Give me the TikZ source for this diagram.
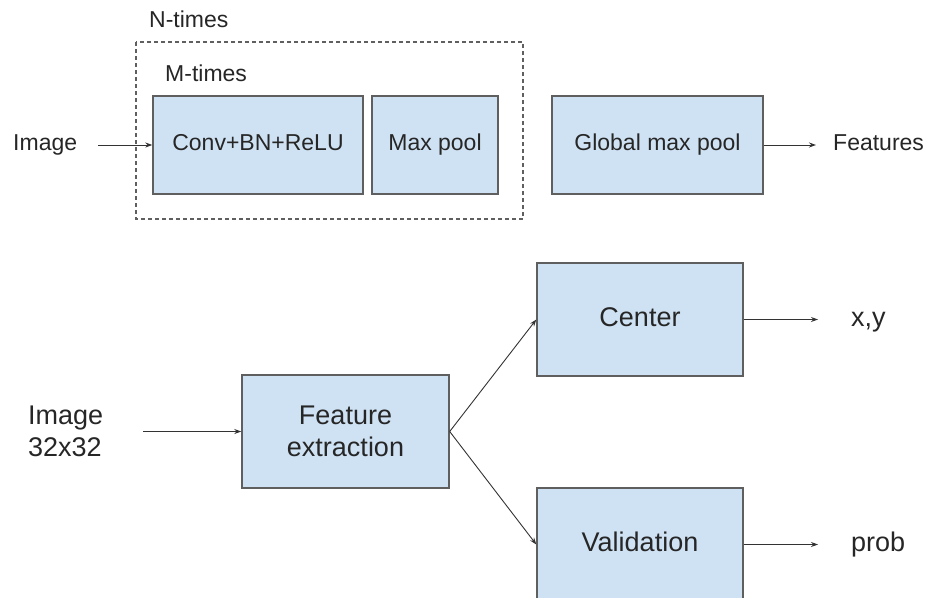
\documentclass[tikz,border=0pt]{standalone}
\usepackage{fontspec}
\setmainfont{Liberation Sans}
\usetikzlibrary{arrows.meta}
\definecolor{boxblue}{RGB}{207,226,243}
\definecolor{boxline}{RGB}{95,95,95}
\begin{document}
\begin{tikzpicture}[x=1pt,y=-1pt,
        small/.style={font=\fontsize{23}{28}\selectfont,text=black!85,text height=16.5pt,text depth=4.8pt},
        large/.style={font=\fontsize{27}{32}\selectfont,text=black!85},
        largeline/.style={large,text height=19.4pt,text depth=5.7pt},
        block/.style={draw=boxline,fill=boxblue,line width=1.4pt,inner sep=0pt},
        word/.style={anchor=west,inner sep=0pt},
        arr/.style={-{Stealth[length=7pt,width=5pt]},line width=0.9pt,black!80}]
        \clip (0,0) rectangle (928,597);

        \draw[boxline,line width=1.3pt,dash pattern=on 4pt off 3pt] (136,42) rectangle (523,219);
        \node[small,word] (ntimes) at (149,22) {N-times};
        \node[small,word] (mtimes) at (165,76) {M-times};

        \node[small,block,minimum width=210pt,minimum height=98pt] (conv) at (258,145) {Conv+BN+ReLU};
        \node[small,block,minimum width=126pt,minimum height=98pt] (maxpool) at (435,145) {Max pool};
        \node[small,block,minimum width=211pt,minimum height=98pt] (gmp) at (657.5,145) {Global max pool};
        \node[small,word] (img) at (13,145) {Image};
        \node[small,word] (feat) at (833,145) {Features};

        \draw[arr] ([xshift=21pt]img.east) -- (conv.west);
        \draw[arr] (gmp.east) -- ([xshift=-17pt]feat.west);

        \node[large,block,minimum width=207pt,minimum height=113pt,align=center] (fe) at (345.5,431.5) {Feature\\extraction};
        \node[largeline,block,minimum width=206pt,minimum height=113pt] (center) at (640,319.5) {Center};
        \node[largeline,block,minimum width=206pt,minimum height=113pt] (valid) at (640,544.5) {Validation};
        \node[large,word,align=left] (img32) at (28,431.5) {Image\\32x32};
        \node[largeline,word] (xy) at (851,319.5) {x,y};
        \node[largeline,word] (prob) at (851,544.5) {prob};

        \draw[arr] ([xshift=40pt]img32.east) -- (fe.west);
        \foreach \b in {center, valid}
            \draw[arr] (fe.east) -- (\b.west);
        \draw[arr] (center.east) -- ([xshift=-33pt]xy.west);
        \draw[arr] (valid.east) -- ([xshift=-33pt]prob.west);
    \end{tikzpicture}
\end{document}
